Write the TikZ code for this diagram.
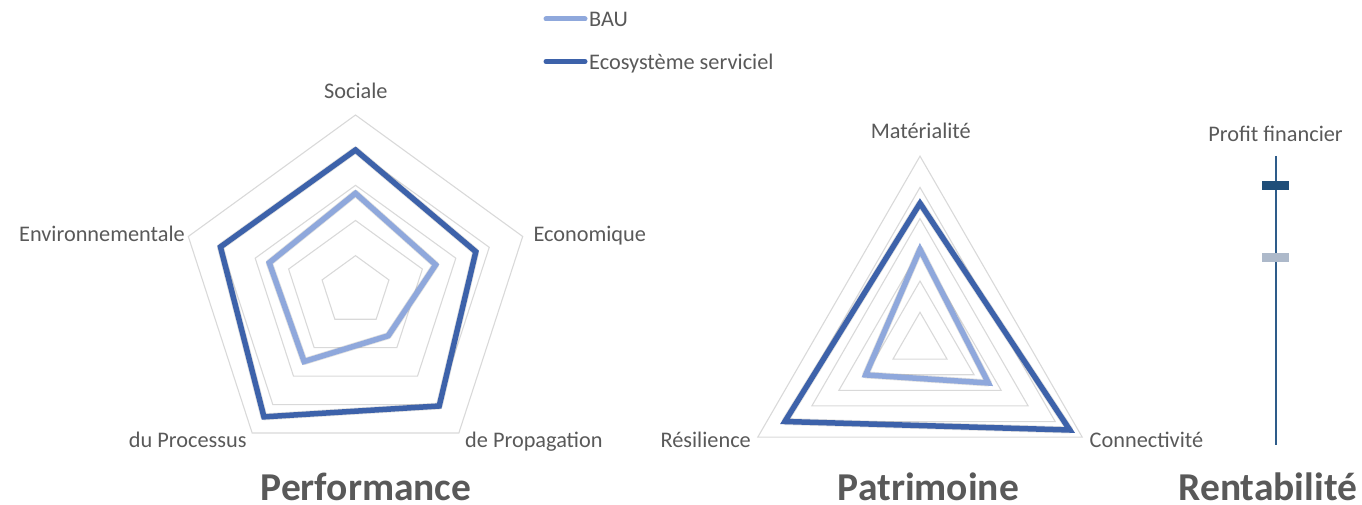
\documentclass[tikz,border=0pt]{standalone}
\usepackage{fontspec}
\setmainfont{Carlito}
\usetikzlibrary{calc}
\definecolor{txt}{HTML}{595959}
\definecolor{gridc}{HTML}{D9D9D9}
\definecolor{darkser}{HTML}{3D62AA}
\definecolor{lightser}{HTML}{8FA8DC}
\definecolor{axisc}{HTML}{2E5C8A}
\definecolor{bardark}{HTML}{1F4E79}
\definecolor{barlight}{HTML}{ADB9CA}
\tikzset{
  lbl/.style={inner sep=0pt, text=txt, font=\fontsize{22.3}{26}\selectfont},
  ttl/.style={inner sep=0pt, text=txt, font=\fontsize{39.5}{46}\selectfont\bfseries},
  gridline/.style={draw=gridc, line width=1.1pt},
  darkline/.style={draw=darkser, line width=5.5pt, line join=miter},
  lightline/.style={draw=lightser, line width=5.5pt, line join=miter},
  shadowline/.style={draw=black, opacity=0.12, line width=7pt, line join=round},
  legline/.style={line width=5pt, line cap=round},
  barmark/.style={minimum width=27pt, minimum height=9pt, inner sep=0pt, draw=none}
}
\begin{document}
\begin{tikzpicture}[x=1pt,y=1pt]
\useasboundingbox (0,0) rectangle (1362,504);
% ---------- Legend ----------
\coordinate (lgA1) at (546,485);
\coordinate (lgA2) at (585,485);
\coordinate (lgB1) at (546,442.5);
\coordinate (lgB2) at (585,442.5);
\draw[legline, lightser] (lgA1) -- (lgA2);
\draw[legline, darkser] (lgB1) -- (lgB2);
\node[lbl, anchor=base west] (legbau) at (589,477.3) {BAU};
\node[lbl, anchor=base west] (legeco) at (589,434.7) {Ecosystème serviciel};
% ---------- Pentagon ----------
\coordinate (P) at (355.5,213.2);
\foreach \k in {1,...,5}{
  \pgfmathsetmacro{\r}{35.16*\k}
  \draw[gridline] ([shift={(90:\r)}]P) -- ([shift={(18:\r)}]P) -- ([shift={(-54:\r)}]P) -- ([shift={(234:\r)}]P) -- ([shift={(162:\r)}]P) -- cycle;
}
\coordinate (dS) at ([shift={(90:140.8)}]P);
\coordinate (dE) at ([shift={(18:126.5)}]P);
\coordinate (dPr) at ([shift={(-54:142.4)}]P);
\coordinate (dPc) at ([shift={(234:155.8)}]P);
\coordinate (dEn) at ([shift={(162:142)}]P);
\coordinate (lS) at ([shift={(90:97.5)}]P);
\coordinate (lE) at ([shift={(18:84.3)}]P);
\coordinate (lPr) at ([shift={(-54:55.6)}]P);
\coordinate (lPc) at ([shift={(234:87.4)}]P);
\coordinate (lEn) at ([shift={(162:90.7)}]P);
\begin{scope}[shift={(1.5,-2.5)}]
\draw[shadowline] (dS) -- (dE) -- (dPr) -- (dPc) -- (dEn) -- cycle;
\draw[shadowline] (lS) -- (lE) -- (lPr) -- (lPc) -- (lEn) -- cycle;
\end{scope}
\draw[darkline] (dS) -- (dE) -- (dPr) -- (dPc) -- (dEn) -- cycle;
\draw[lightline] (lS) -- (lE) -- (lPr) -- (lPc) -- (lEn) -- cycle;
\node[lbl, anchor=base] (sociale) at (355.8,405) {Sociale};
\node[lbl, anchor=base west] (eco) at (533.3,262.5) {Economique};
\node[lbl, anchor=base east] (env) at (185,262.5) {Environnementale};
\node[lbl, anchor=base east] (proc) at (246.7,56.5) {du Processus};
\node[lbl, anchor=base west] (prop) at (465,56.5) {de Propagation};
\node[ttl, anchor=base] (perf) at (366,4) {Performance};
% ---------- Triangle ----------
\coordinate (T) at (920,160.5);
\foreach \k in {1,...,6}{
  \pgfmathsetmacro{\r}{31.22*\k}
  \draw[gridline] ([shift={(90:\r)}]T) -- ([shift={(-30:\r)}]T) -- ([shift={(210:\r)}]T) -- cycle;
}
\coordinate (dM) at ([shift={(90:140.2)}]T);
\coordinate (dC) at ([shift={(-30:173)}]T);
\coordinate (dR) at ([shift={(210:156)}]T);
\coordinate (lM) at ([shift={(90:94.2)}]T);
\coordinate (lC) at ([shift={(-30:79)}]T);
\coordinate (lR) at ([shift={(210:62.8)}]T);
\begin{scope}[shift={(1.5,-2.5)}]
\draw[shadowline] (dM) -- (dC) -- (dR) -- cycle;
\draw[shadowline] (lM) -- (lC) -- (lR) -- cycle;
\end{scope}
\draw[darkline] (dM) -- (dC) -- (dR) -- cycle;
\draw[lightline] (lM) -- (lC) -- (lR) -- cycle;
\node[lbl, anchor=base] (mat) at (920.8,365) {Matérialité};
\node[lbl, anchor=base east] (res) at (751,56.5) {Résilience};
\node[lbl, anchor=base west] (con) at (1089.5,56.5) {Connectivité};
\node[ttl, anchor=base] (patr) at (928.4,4) {Patrimoine};
% ---------- Axis ----------
\coordinate (axTop) at (1275.7,348);
\coordinate (axBot) at (1275.7,59);
\draw[axisc, line width=2pt] (axTop) -- (axBot);
\node[barmark, fill=bardark] (bdark) at (1275.5,318) {};
\node[barmark, fill=barlight] (blight) at (1275.5,247) {};
\node[lbl, anchor=base] (profit) at (1275.6,362.3) {Profit financier};
\node[ttl, anchor=base] (rent) at (1267.8,4) {Rentabilité};
\end{tikzpicture}
\end{document}
